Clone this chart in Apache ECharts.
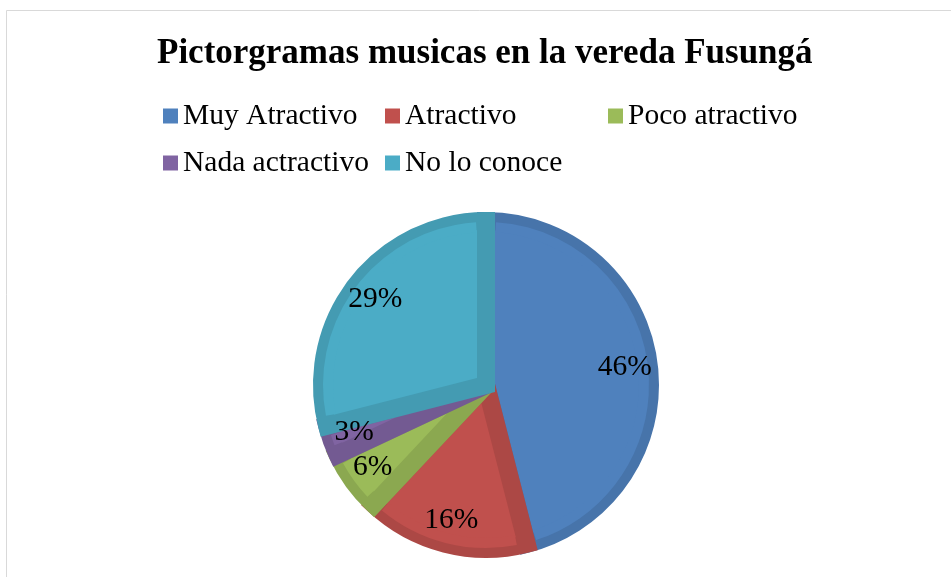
<!DOCTYPE html>
<html>
<head>
<meta charset="utf-8">
<script src="https://cdn.jsdelivr.net/npm/echarts@6/dist/echarts.min.js"></script>
<style>
  html, body { margin: 0; padding: 0; background: #ffffff; }
  #chart { width: 951px; height: 577px; }
</style>
</head>
<body>
<div id="chart"></div>
<script>
// Respuestas de la encuesta sobre pictogramas musicales
const categories = ['Muy Atractivo', 'Atractivo', 'Poco atractivo', 'Nada actractivo', 'No lo conoce'];
const percentages = [46, 16, 6, 3, 29];

const titleText = 'Pictorgramas musicas en la vereda Fusungá';

// Relleno y contorno de cada porción
const fillColors = ['#4F81BD', '#C0504D', '#9BBB59', '#8064A2', '#4BACC6'];
const edgeColors = ['#4774AA', '#AC4845', '#8BA850', '#735A92', '#449BB2'];

// Posición de cada entrada de la leyenda (dos filas, columnas fijas)
const legendSpots = [
  { left: 163, top: 101 },
  { left: 385, top: 101 },
  { left: 608, top: 101 },
  { left: 163, top: 148 },
  { left: 385, top: 148 }
];

const serif = '"Liberation Serif", "Times New Roman", serif';

const pieData = categories.map((name, i) => ({
  name: name,
  value: percentages[i],
  itemStyle: { color: fillColors[i], borderColor: edgeColors[i] }
}));

const legends = categories.map((name, i) => ({
  data: [name],
  left: legendSpots[i].left,
  top: legendSpots[i].top,
  orient: 'horizontal',
  icon: 'rect',
  itemWidth: 15,
  itemHeight: 15,
  itemGap: 0,
  padding: 0,
  selectedMode: false,
  itemStyle: { borderWidth: 0 },
  textStyle: { fontFamily: serif, fontSize: 29.5, color: '#000', lineHeight: 30 }
}));

const chart = echarts.init(document.getElementById('chart'), null, { renderer: 'canvas' });

const pieCenter = [486, 385];

chart.setOption({
  animation: false,
  backgroundColor: '#ffffff',
  title: {
    text: titleText,
    left: 157,
    top: 36,
    padding: 0,
    textStyle: { fontFamily: serif, fontWeight: 'bold', fontSize: 35, color: '#000' }
  },
  legend: legends,
  graphic: [{
    type: 'rect',
    silent: true,
    shape: { x: 6.5, y: 10.5, width: 980, height: 620 },
    style: { fill: 'none', stroke: '#D9D9D9', lineWidth: 1 }
  }],
  series: [
    {
      type: 'pie',
      center: pieCenter,
      radius: [0, 164],
      startAngle: 90,
      clockwise: true,
      silent: true,
      z: 2,
      data: pieData,
      // esquinas exteriores en inglete; el vértice central queda biselado
      itemStyle: { borderWidth: 18, borderJoin: 'miter', borderMiterLimit: 2 },
      label: { show: false },
      labelLine: { show: false }
    },
    {
      // anillo claro que adelgaza el borde exterior sin tapar las juntas radiales
      type: 'pie',
      center: pieCenter,
      radius: [153, 163],
      startAngle: 90,
      clockwise: true,
      silent: true,
      z: 3,
      padAngle: 7,
      data: categories.map((name, i) => ({
        name: name,
        value: percentages[i],
        itemStyle: { color: fillColors[i] }
      })),
      itemStyle: { borderWidth: 0 },
      label: { show: false },
      labelLine: { show: false }
    },
    {
      // capa transparente que solo coloca las etiquetas de porcentaje
      type: 'pie',
      center: pieCenter,
      radius: [104, 170],
      startAngle: 90,
      clockwise: true,
      silent: true,
      z: 4,
      data: categories.map((name, i) => ({ name: name, value: percentages[i] })),
      itemStyle: { color: 'rgba(0,0,0,0)', borderWidth: 0 },
      label: {
        show: true,
        position: 'inside',
        formatter: '{c}%',
        fontFamily: serif,
        fontSize: 29.5,
        color: '#000'
      },
      labelLine: { show: false }
    }
  ]
});
</script>
</body>
</html>
